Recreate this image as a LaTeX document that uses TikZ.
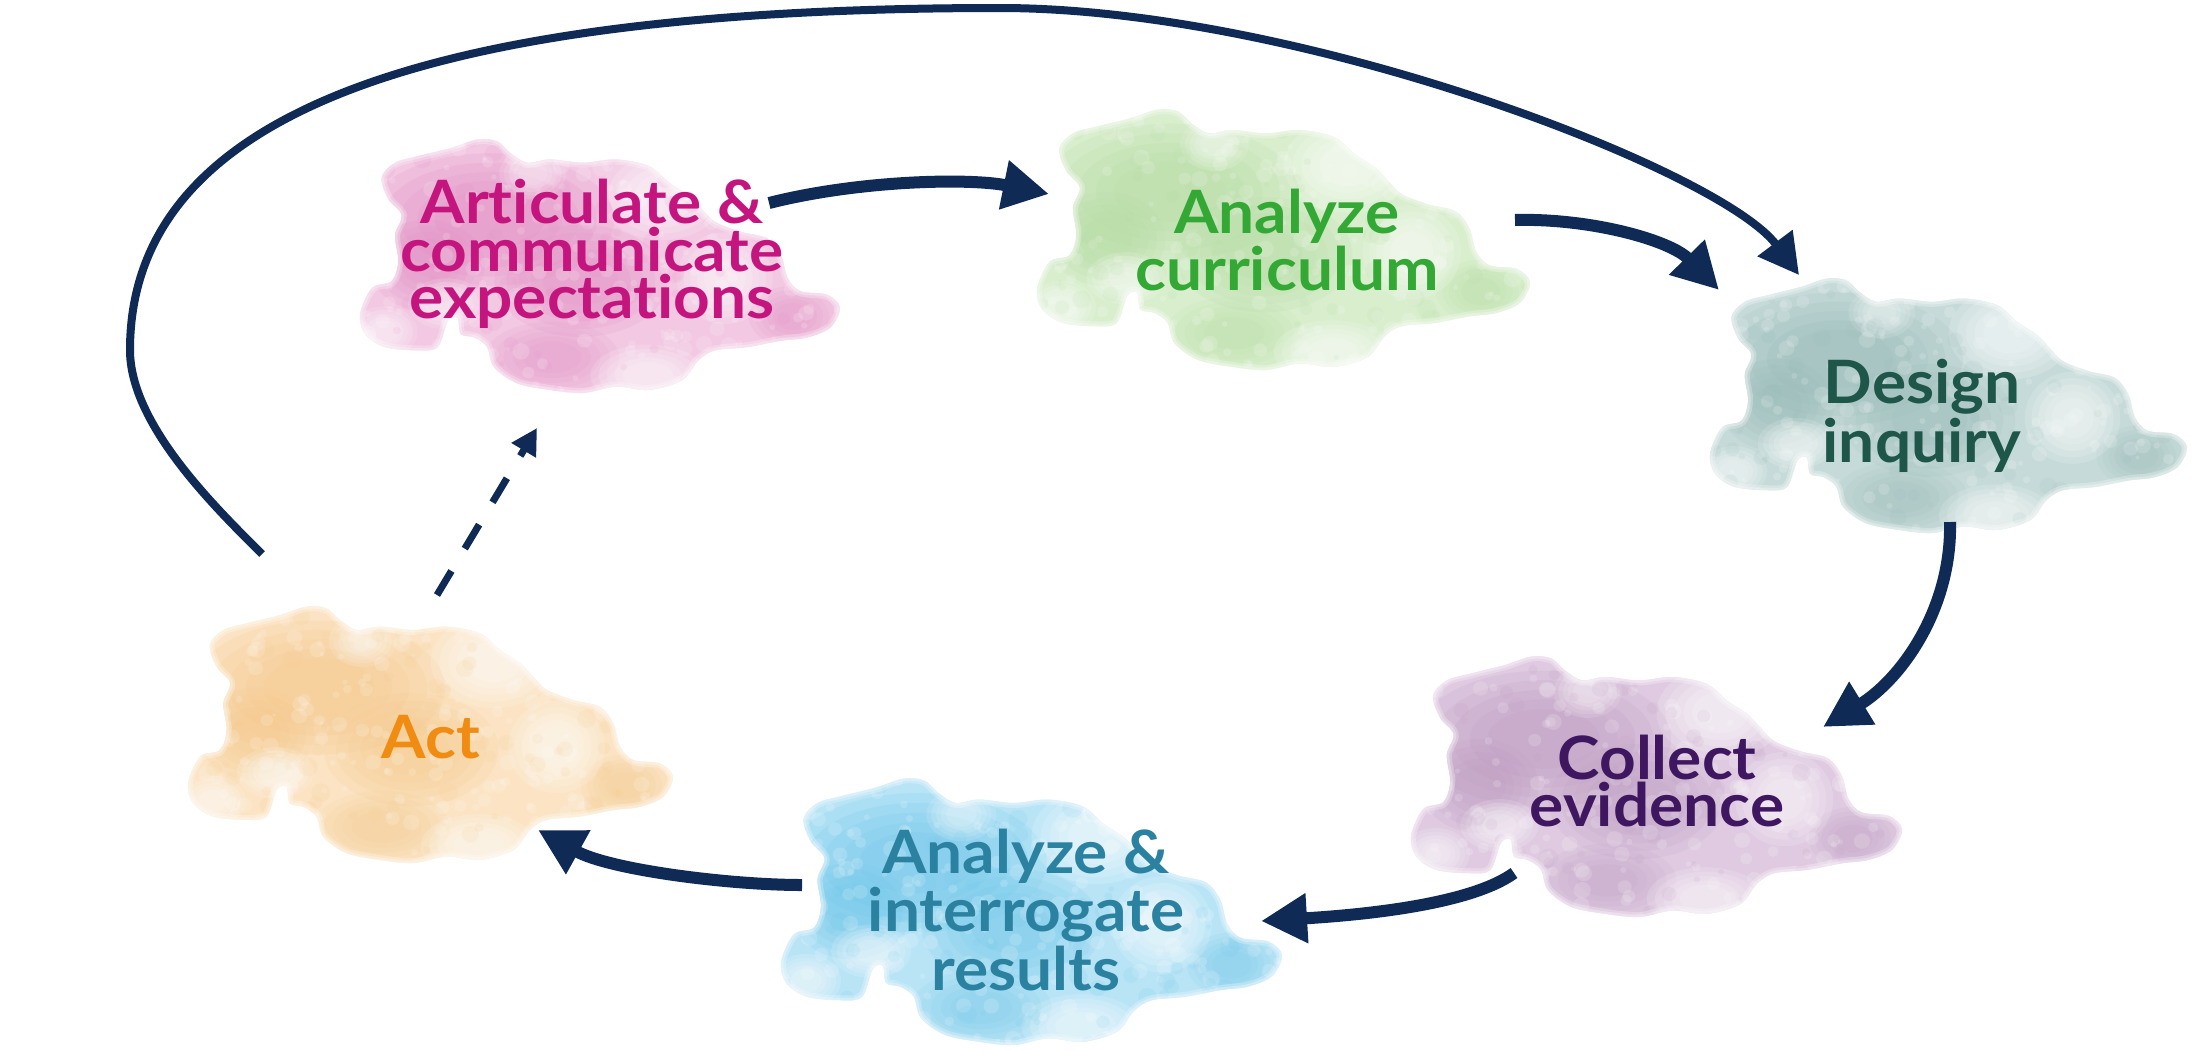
\documentclass[tikz,border=0pt]{standalone}
\usepackage{fontspec}
\setmainfont{Lato}[Ligatures=NoCommon, FakeStretch=1.07]
\usetikzlibrary{arrows.meta}
\definecolor{navy}{HTML}{102A56}
% cloud colours (base, darker)
\definecolor{pinkB}{HTML}{F2C8E2}\definecolor{pinkD}{HTML}{E28CC3}
\definecolor{greenB}{HTML}{D8EECD}\definecolor{greenD}{HTML}{B3DBA0}
\definecolor{tealB}{HTML}{C6DBD9}\definecolor{tealD}{HTML}{96B9B6}
\definecolor{purpB}{HTML}{DFCAE1}\definecolor{purpD}{HTML}{BC9AC0}
\definecolor{blueB}{HTML}{B8E4F6}\definecolor{blueD}{HTML}{6CC6EA}
\definecolor{orngB}{HTML}{FBE3C3}\definecolor{orngD}{HTML}{F6C787}
% text colours
\definecolor{artC}{HTML}{C4157F}
\definecolor{curC}{HTML}{34A835}
\definecolor{desC}{HTML}{1E5649}
\definecolor{colC}{HTML}{3F1760}
\definecolor{anaC}{HTML}{2A82A0}
\definecolor{actC}{HTML}{F08C12}
\newcommand\labelfont{\fontsize{17}{13.5}\selectfont\bfseries}
\newcommand\cloudoutline{plot[smooth cycle, tension=0.55] coordinates {
 (0.045,0.155) (0.073,0.097) (0.121,0.071) (0.190,0.039) (0.245,0.006) (0.286,0.013)
 (0.313,0.058) (0.348,0.097) (0.396,0.084) (0.465,0.097) (0.533,0.084) (0.602,0.110)
 (0.643,0.174) (0.685,0.226) (0.712,0.278) (0.740,0.329) (0.794,0.368) (0.849,0.394)
 (0.877,0.459) (0.891,0.549) (0.918,0.601) (0.973,0.614) (1.000,0.665) (0.980,0.743)
 (0.932,0.782) (0.877,0.795) (0.808,0.820) (0.740,0.833) (0.705,0.872) (0.671,0.950)
 (0.602,0.988) (0.533,0.975) (0.465,1.000) (0.396,0.988) (0.327,0.962) (0.279,0.898)
 (0.265,0.820) (0.238,0.782) (0.210,0.769) (0.203,0.704) (0.183,0.717) (0.162,0.820)
 (0.121,0.833) (0.052,0.820) (0.011,0.769) (0.000,0.691) (0.025,0.588) (0.066,0.562)
 (0.080,0.484) (0.073,0.381) (0.087,0.303) (0.059,0.239)}}
% soft (blurred-looking) blob: colour, x, y, rx, ry, opacity per layer
\newcommand\softblob[6]{%
 \foreach \k in {1,0.86,0.72,0.58,0.44}{%
   \fill[#1, fill opacity=#6] (#2,#3) ellipse[x radius=\k*#4, y radius=\k*#5];}}
% #1 x0, #2 y0, #3 width, #4 height, #5 base colour, #6 dark colour, #7 seed
\newcommand\wcloud[7]{%
 \begin{scope}[shift={(#1,#2)}, xscale=#3, yscale=#4]
  \pgfmathsetseed{#7}
  \fill[#5] \cloudoutline;
  \begin{scope}
   \clip \cloudoutline;
   \softblob{#6}{0.27}{0.32}{0.26}{0.26}{0.16}
   \softblob{#6}{0.14}{0.50}{0.12}{0.18}{0.14}
   \softblob{#6}{0.46}{0.56}{0.18}{0.22}{0.14}
   \softblob{#6}{0.40}{0.86}{0.14}{0.14}{0.10}
   \softblob{#6}{0.90}{0.70}{0.09}{0.12}{0.10}
   \softblob{white}{0.63}{0.22}{0.13}{0.18}{0.16}
   \softblob{white}{0.76}{0.55}{0.10}{0.18}{0.15}
   \softblob{white}{0.60}{0.93}{0.12}{0.12}{0.15}
   \softblob{white}{0.18}{0.65}{0.08}{0.10}{0.14}
   \softblob{white}{0.05}{0.76}{0.07}{0.10}{0.14}
   \softblob{white}{0.36}{0.14}{0.07}{0.10}{0.12}
   \foreach \i in {1,...,220}{%
     \pgfmathsetmacro\cx{rnd}\pgfmathsetmacro\cy{rnd}\pgfmathsetmacro\cr{0.004+0.014*rnd}%
     \fill[white, fill opacity=0.16] (\cx,\cy) ellipse[x radius=\cr, y radius=1.8*\cr];}
   \foreach \i in {1,...,90}{%
     \pgfmathsetmacro\cx{rnd}\pgfmathsetmacro\cy{rnd}\pgfmathsetmacro\cr{0.005+0.016*rnd}%
     \fill[#6, fill opacity=0.12] (\cx,\cy) ellipse[x radius=\cr, y radius=1.8*\cr];}
   \draw[white, opacity=0.25, line width=0.10cm] \cloudoutline;
   \draw[white, opacity=0.30, line width=0.05cm] \cloudoutline;
  \end{scope}
 \end{scope}}
\tikzset{
 lbl/.style={font=\labelfont, align=center, inner sep=0pt},
 flow/.style={draw=navy, line width=0.12cm, -{Triangle[length=0.46cm,width=0.47cm]}},
 bigflow/.style={draw=navy, line width=0.08cm, -{Triangle[length=0.40cm,width=0.42cm]}},
 dashflow/.style={draw=navy, line width=0.07cm, dash pattern=on 0.28cm off 0.26cm,
   -{Triangle[length=0.26cm,width=0.27cm]}}
}
\begin{document}
\begin{tikzpicture}[x=0.01cm, y=-0.01cm]
\useasboundingbox (0,0) rectangle (2200,1051);
\fill[white] (0,0) rectangle (2200,1051);
% clouds
\wcloud{360}{138}{480}{255}{pinkB}{pinkD}{11}
\wcloud{1037}{108}{493}{262}{greenB}{greenD}{12}
\wcloud{1710}{277}{477}{256}{tealB}{tealD}{13}
\wcloud{1411}{655}{491}{262}{purpB}{purpD}{14}
\wcloud{781}{777}{501}{268}{blueB}{blueD}{15}
\wcloud{188}{605}{485}{258}{orngB}{orngD}{16}
% labels
\node[lbl, text=artC] (art) at (592,254) {Articulate \&\\communicate\\expectations};
\node[lbl, text=curC] (cur) at (1287,240) {Analyze\\curriculum};
\node[lbl, text=desC] (des) at (1922,416) {Design\\inquiry};
\node[lbl, text=colC] (col) at (1657,781) {Collect\\evidence};
\node[lbl, text=anaC] (ana) at (1026,910) {Analyze \&\\interrogate\\results};
\node[lbl, text=actC] (act) at (431,737) {Act};
% connector ends
\coordinate (artOut) at (769,203);
\coordinate (curIn) at (1049,194);
\coordinate (curOut) at (1515,220);
\coordinate (desIn) at (1719,290);
\coordinate (desOut) at (1950,522);
\coordinate (colIn) at (1823,727);
\coordinate (colOut) at (1514,873);
\coordinate (anaIn) at (1261,921);
\coordinate (anaOut) at (802,885);
\coordinate (actIn) at (538,830);
\coordinate (actOut) at (437,595);
\coordinate (artIn) at (537,428);
\coordinate (loopS) at (262,554);
\coordinate (loopL) at (130,350);
\coordinate (loopT) at (1000,8);
\coordinate (desTop) at (1799,275);
% connectors
\draw[flow] (artOut) .. controls (860,180) and (970,178) .. (curIn);
\draw[flow] (curOut) .. controls (1590,218) and (1670,240) .. (desIn);
\draw[flow] (desOut) .. controls (1952,610) and (1900,680) .. (colIn);
\draw[flow] (colOut) .. controls (1470,905) and (1360,915) .. (anaIn);
\draw[flow] (anaOut) .. controls (730,885) and (610,870) .. (actIn);
\draw[dashflow] (actOut) -- (artIn);
\draw[bigflow] (loopS) .. controls (217,509) and (130,425) .. (loopL)
  .. controls (130,100) and (460,8) .. (loopT)
  .. controls (1300,8) and (1720,170) .. (desTop);
\end{tikzpicture}
\end{document}
